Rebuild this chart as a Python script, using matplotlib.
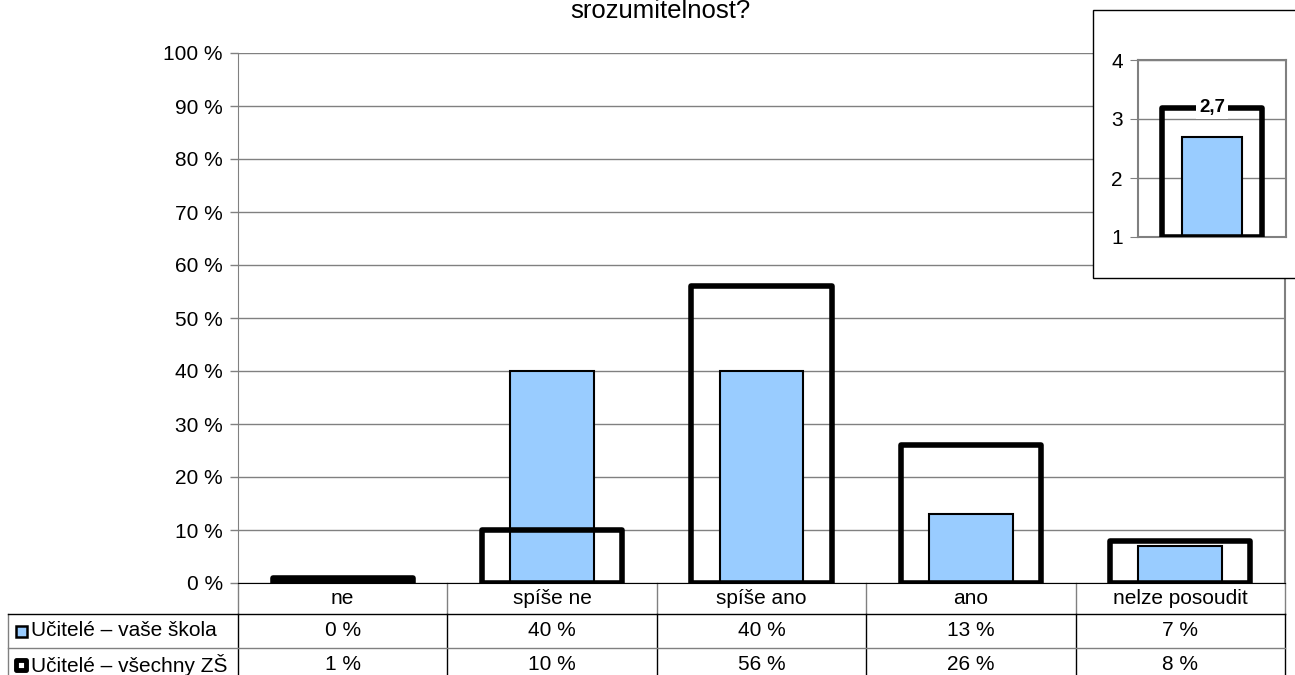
import matplotlib.pyplot as plt
from matplotlib.patches import Rectangle

plt.rcParams['font.family'] = ['Liberation Sans', 'DejaVu Sans']

W, H = 1295, 675

# data
categories = ["ne", "spíše ne", "spíše ano", "ano", "nelze posoudit"]
school = [0, 40, 40, 13, 7]
all_schools = [1, 10, 56, 26, 8]
series_names = ["Učitelé – vaše škola", "Učitelé – všechny ZŠ"]
title_tail = "srozumitelnost?"
avg_school = 2.7
avg_all = 3.19  # outline height in the inset (no label for it)
avg_label = "2,7"

BLUE = "#99CCFF"
GRID = "#808080"
FS = 15


def fx(px):
    return px / W


def fy(py):
    return 1 - py / H


fig = plt.figure(figsize=(W / 100, H / 100), dpi=100)

# main chart
ax = fig.add_axes([fx(238), fy(583), fx(1285) - fx(238), fy(53) - fy(583)])
xs = list(range(len(categories)))
ax.bar(xs, school, width=0.4, color=BLUE, edgecolor="black", linewidth=1.5, zorder=3)
ax.bar(xs, all_schools, width=0.67, fill=False, edgecolor="black", linewidth=4,
       joinstyle="round", zorder=4)
ax.set_xlim(-0.5, len(categories) - 0.5)
ax.set_ylim(0, 100)
yt = list(range(0, 101, 10))
ax.set_yticks(yt)
ax.set_yticklabels([f"{v} %" for v in yt], fontsize=FS)
ax.yaxis.grid(True, color=GRID, lw=1)
ax.set_axisbelow(True)
ax.set_xticks([])
ax.tick_params(axis="y", direction="out", length=6, color=GRID, width=1, pad=5)
ax.spines["top"].set_visible(False)
ax.spines["left"].set_color(GRID)
ax.spines["right"].set_color(GRID)
ax.spines["right"].set_linewidth(1.5)
ax.spines["bottom"].set_color("black")

# data table under the chart (x in data units, y in axes fraction)
tr = ax.get_xaxis_transform()
ph = 530.0  # axes height in px
r1 = -31 / ph          # bottom of category row
r2 = r1 - 34 / ph      # bottom of first series row
r3 = r2 - 40 / ph      # below the figure edge
colw = 1047 / len(categories)
left = -0.5 - (238 - 8) / colw
right = len(categories) - 0.5
kw = dict(transform=tr, clip_on=False, lw=1)
for i in range(len(categories) + 1):
    xb = i - 0.5
    ax.plot([xb, xb], [0, r1], color=GRID, **kw)
    ax.plot([xb, xb], [r1, r3], color="black", **kw)
ax.plot([left, left], [r1, r3], color=GRID, **kw)
ax.plot([left, right], [r1, r1], color="black", **kw)
ax.plot([left, right], [r2, r2], color=GRID, **kw)

for i, c in enumerate(categories):
    ax.text(i, r1 / 2, c, transform=tr, ha="center", va="center", fontsize=FS)
    ax.text(i, (r1 + r2) / 2, f"{school[i]} %", transform=tr, ha="center",
            va="center", fontsize=FS)
    ax.text(i, r2 - 17 / ph, f"{all_schools[i]} %", transform=tr, ha="center",
            va="center", fontsize=FS)

# legend keys in the table
kx = left + 13 / colw
ax.add_patch(Rectangle((kx - 5.5 / colw, (r1 + r2) / 2 - 5.5 / ph), 11 / colw, 11 / ph,
                       transform=tr, facecolor=BLUE, edgecolor="black", lw=1.8,
                       clip_on=False))
ax.add_patch(Rectangle((kx - 5 / colw, r2 - 17 / ph - 5 / ph), 10 / colw, 10 / ph,
                       transform=tr, facecolor="white", edgecolor="black", lw=3.5,
                       joinstyle="round", clip_on=False))
ax.text(left + 23 / colw, (r1 + r2) / 2, series_names[0], transform=tr,
        ha="left", va="center", fontsize=FS)
ax.text(left + 23 / colw, r2 - 17 / ph, series_names[1], transform=tr,
        ha="left", va="center", fontsize=FS)

# title (first line falls above the picture)
fig.text(fx(660), fy(11), title_tail, ha="center", va="center", fontsize=18.5)

# inset with averages
fig.patches.append(Rectangle((fx(1093), fy(278)), fx(1310) - fx(1093), fy(10) - fy(278),
                             transform=fig.transFigure, facecolor="white",
                             edgecolor="black", lw=1, zorder=5))
ins = fig.add_axes([fx(1138), fy(237), fx(1286) - fx(1138), fy(60) - fy(237)], zorder=6)
ins.bar([0], [avg_school - 1], bottom=1, width=0.4, color=BLUE, edgecolor="black",
        linewidth=1.5, zorder=3)
ins.bar([0], [avg_all - 1], bottom=1, width=0.676, fill=False, edgecolor="black",
        linewidth=4, joinstyle="round", zorder=4)
ins.text(0, avg_all, avg_label, ha="center", va="center", fontsize=13.5,
         fontweight="bold", zorder=5,
         bbox=dict(facecolor="white", edgecolor="none", pad=2))
ins.set_xlim(-0.5, 0.5)
ins.set_ylim(1, 4)
ins.set_yticks([1, 2, 3, 4])
ins.set_yticklabels(["1", "2", "3", "4"], fontsize=FS)
ins.set_xticks([])
ins.yaxis.grid(True, color=GRID, lw=1)
ins.set_axisbelow(True)
ins.tick_params(axis="y", direction="out", length=6, color=GRID, pad=5)
for s in ins.spines.values():
    s.set_color(GRID)
    s.set_linewidth(1.5)

fig.savefig("out.png", dpi=100)
